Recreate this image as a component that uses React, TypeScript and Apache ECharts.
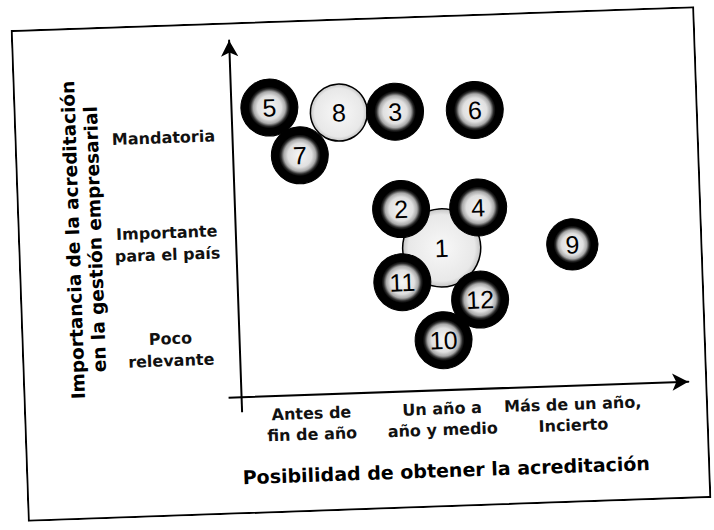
import React, { useEffect, useRef } from 'react';
import * as echarts from 'echarts';

// Axis categories
const xCategories = ['Antes de\nfin de año', 'Un año a\naño y medio', 'Más de un año,\nIncierto'];
const yCategories = ['Poco\nrelevante', 'Importante\npara el país', 'Mandatoria'];
const xTitle = 'Posibilidad de obtener la acreditación';
const yTitle = 'Importancia de la acreditación\nen la gestión empresarial';

// Light bubbles (drawn underneath)
const lightIds = ['8', '1'];
const lightX = [0.29, 1.04];
const lightY = [2.18, 0.87];
const lightW = [1.0, 1.37];

// Dark bubbles
const darkIds = ['5', '3', '6', '2', '4', '11', '12', '10', '9', '7'];
const darkX = [-0.24, 0.72, 1.33, 0.74, 1.33, 0.73, 1.32, 1.03, 2.04, -0.02];
const darkY = [2.25, 2.17, 2.16, 1.25, 1.24, 0.56, 0.37, 0.0, 0.86, 1.79];
const darkW = [1, 1, 1, 1, 1, 1, 1, 1, 0.9, 1];

const BASE = 57;
const FONT = 'DejaVu Sans';

export default function App() {
  const ref = useRef<HTMLDivElement>(null);
  useEffect(() => {
    const chart = echarts.init(ref.current!, null, { renderer: 'svg' });
    const lightData = lightX.map((x, i) => [x, lightY[i], lightW[i], lightIds[i]]);
    const darkData = darkX.map((x, i) => [x, darkY[i], darkW[i], darkIds[i]]);
    const bubbleLabel = {
      show: true,
      position: 'inside',
      formatter: (p: any) => p.data[3],
      color: '#000',
      fontFamily: 'Liberation Sans',
      fontSize: 25,
      fontWeight: 'normal',
    };
    chart.setOption({
      animation: false,
      backgroundColor: '#fff',
      grid: { left: 218, right: 19, top: 18, bottom: 117 },
      xAxis: {
        type: 'value',
        min: -0.53,
        max: 2.89,
        splitLine: { show: false },
        axisTick: { show: false },
        axisLine: {
          show: true,
          onZero: false,
          symbol: ['none', 'arrow'],
          symbolSize: [13, 16],
          lineStyle: { color: '#000', width: 2 },
        },
        axisLabel: {
          customValues: [0, 1, 2],
          formatter: (v: number) => xCategories[Math.round(v)] ?? '',
          color: '#111',
          fontFamily: FONT,
          fontWeight: 'bold',
          fontSize: 16,
          lineHeight: 21,
          margin: 8,
          align: 'center',
        },
      },
      yAxis: {
        type: 'value',
        min: -0.472,
        max: 2.896,
        splitLine: { show: false },
        axisTick: { show: false },
        axisLine: {
          show: true,
          onZero: false,
          symbol: ['none', 'arrow'],
          symbolSize: [13, 16],
          lineStyle: { color: '#000', width: 2 },
        },
        axisLabel: {
          customValues: [0, 1, 2],
          formatter: (v: number) => yCategories[Math.round(v)] ?? '',
          color: '#111',
          fontFamily: FONT,
          fontWeight: 'bold',
          fontSize: 16,
          lineHeight: 22,
          margin: 69,
          align: 'center',
        },
      },
      graphic: [
        {
          type: 'rect',
          shape: { x: 1, y: 1, width: 682, height: 490 },
          style: { fill: 'none', stroke: '#000', lineWidth: 2 },
          silent: true,
        },
        {
          type: 'line',
          shape: { x1: 205, y1: 375, x2: 218, y2: 375 },
          style: { stroke: '#000', lineWidth: 2 },
        },
        {
          type: 'line',
          shape: { x1: 218, y1: 375, x2: 218, y2: 390 },
          style: { stroke: '#000', lineWidth: 2 },
        },
        {
          type: 'text',
          x: 420,
          y: 455,
          style: {
            text: xTitle,
            align: 'center',
            verticalAlign: 'middle',
            fontFamily: FONT,
            fontWeight: 'bold',
            fontSize: 19,
            fill: '#000',
          },
        },
        {
          type: 'text',
          x: 66,
          y: 212,
          rotation: Math.PI / 2,
          style: {
            text: yTitle,
            align: 'center',
            verticalAlign: 'middle',
            fontFamily: FONT,
            fontWeight: 'bold',
            fontSize: 18.5,
            lineHeight: 22,
            fill: '#000',
          },
        },
      ],
      series: [
        {
          type: 'scatter',
          data: lightData,
          symbolSize: (d: any) => BASE * d[2],
          itemStyle: {
            color: {
              type: 'radial', x: 0.5, y: 0.5, r: 0.5,
              colorStops: [
                { offset: 0, color: '#f8f8f8' },
                { offset: 0.85, color: '#e8e8e8' },
                { offset: 1, color: '#c4c4c4' },
              ],
            },
            borderColor: '#000',
            borderWidth: 1.5,
            opacity: 1,
          },
          label: bubbleLabel,
          z: 2,
        },
        {
          type: 'scatter',
          data: darkData,
          symbolSize: (d: any) => BASE * d[2],
          itemStyle: {
            color: {
              type: 'radial', x: 0.5, y: 0.5, r: 0.5,
              colorStops: [
                { offset: 0, color: '#f6f6f6' },
                { offset: 0.42, color: '#e0e0e0' },
                { offset: 0.56, color: '#a9a9a9' },
                { offset: 0.66, color: '#2a2a2a' },
                { offset: 0.73, color: '#000' },
                { offset: 1, color: '#000' },
              ],
            },
            borderColor: '#000',
            borderWidth: 1,
            opacity: 1,
          },
          label: bubbleLabel,
          z: 3,
        },
      ],
    });
    return () => chart.dispose();
  }, []);
  return (
    <div
      style={{
        position: 'absolute',
        left: 19,
        top: 18,
        width: 684,
        height: 492,
        transform: 'rotate(-2deg)',
        transformOrigin: '50% 50%',
        background: '#fff',
      }}
    >
      <div ref={ref} style={{ width: 684, height: 492 }} />
    </div>
  );
}
